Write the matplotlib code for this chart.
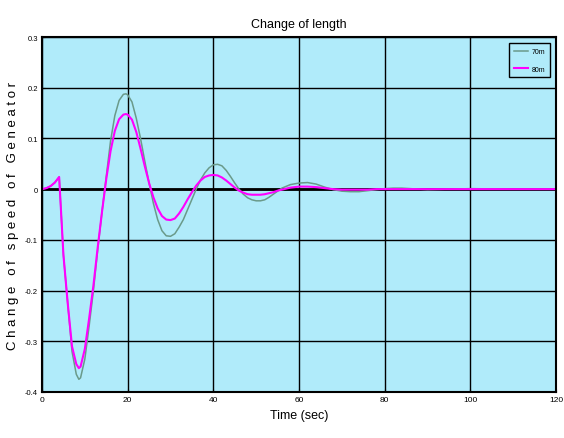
import matplotlib
matplotlib.use("Agg")
import matplotlib.pyplot as plt

# time samples (sec) and change of generator speed for two lengths
t = [0, 1, 2, 3, 4, 5, 6, 7, 8, 8.6, 9, 10, 11, 12, 13, 14, 15, 16, 17, 18,
     19, 19.6, 20, 21, 22, 23, 24, 25, 26, 27, 28, 29, 30, 31, 32, 33, 34,
     35, 36, 37, 38, 39, 40, 41, 42, 43, 44, 45, 46, 47, 48, 49, 50, 51, 52,
     53, 54, 55, 56, 58, 60, 62, 64, 66, 68, 70, 72, 74, 76, 78, 80, 82, 84,
     86, 88, 90, 95, 100, 110, 120]

speed_70m = [0, 0.002, 0.006, 0.013, 0.024, -0.13, -0.225, -0.32, -0.365,
             -0.375, -0.372, -0.335, -0.27, -0.2, -0.12, -0.045, 0.025, 0.095,
             0.145, 0.175, 0.187, 0.188, 0.186, 0.172, 0.14, 0.1, 0.055, 0.012,
             -0.028, -0.06, -0.082, -0.092, -0.093, -0.088, -0.075, -0.06,
             -0.04, -0.02, 0.0, 0.018, 0.032, 0.042, 0.048, 0.049, 0.046,
             0.037, 0.025, 0.012, 0.0, -0.01, -0.017, -0.021, -0.023, -0.023,
             -0.021, -0.016, -0.01, -0.004, 0.002, 0.009, 0.012, 0.013, 0.01,
             0.004, -0.001, -0.004, -0.005, -0.005, -0.003, -0.001, 0.001,
             0.002, 0.002, 0.001, 0.0, -0.001, 0.0, 0.001, 0.0, 0.0]

speed_80m = [0, 0.002, 0.006, 0.013, 0.024, -0.13, -0.225, -0.31, -0.345,
             -0.353, -0.35, -0.315, -0.255, -0.19, -0.115, -0.045, 0.02, 0.075,
             0.115, 0.138, 0.147, 0.148, 0.147, 0.137, 0.113, 0.08, 0.045,
             0.012, -0.016, -0.038, -0.053, -0.06, -0.061, -0.058, -0.048,
             -0.035, -0.02, -0.006, 0.007, 0.017, 0.024, 0.027, 0.028, 0.027,
             0.023, 0.017, 0.01, 0.003, -0.003, -0.007, -0.01, -0.011, -0.011,
             -0.011, -0.01, -0.008, -0.006, -0.003, -0.001, 0.003, 0.005,
             0.005, 0.004, 0.002, 0.0, -0.001, -0.001, -0.001, -0.001, 0.0,
             0.0, 0.0, 0.0, 0.0, 0.0, 0.0, 0.0, 0.0, 0.0, 0.0]

x_ticks = [0, 20, 40, 60, 80, 100, 120]
y_ticks = [-0.4, -0.3, -0.2, -0.1, 0, 0.1, 0.2, 0.3]
y_labels = ["-0.4", "-0.3", "-0.2", "-0.1", "0", "0.1", "0.2", "0.3"]

font = ["Liberation Sans", "DejaVu Sans"]

fig = plt.figure(figsize=(5.64, 4.39), dpi=100)
ax = fig.add_axes([0.0745, 0.1048, 0.9113, 0.8086])
ax.set_facecolor("#b0ebfa")

ax.plot(t, speed_70m, color="#6a9a8a", lw=1.1, label="70m")
ax.plot(t, speed_80m, color="#ff00ff", lw=1.5, label="80m")

ax.set_xlim(0, 120)
ax.set_ylim(-0.4, 0.3)
ax.set_xticks(x_ticks)
ax.set_xticklabels([str(v) for v in x_ticks], family=font, fontsize=6)
ax.set_yticks(y_ticks)
ax.set_yticklabels(y_labels, family=font, fontsize=5.5)
ax.tick_params(direction="in", length=2, width=0.8, pad=3)
ax.grid(True, color="black", lw=1)
ax.axhline(0, color="black", lw=2, zorder=1.5)
ax.set_axisbelow(True)
for s in ax.spines.values():
    s.set_linewidth(1.5)

ax.set_title("Change of length", family=font, fontsize=9, pad=7)
ax.set_xlabel("Time (sec)", family=font, fontsize=9, labelpad=4)
ax.set_ylabel("C h a n g e   o f   s p e e d   o f   G e n e a t o r",
              family=font, fontsize=9.5, labelpad=4)

leg = ax.legend(loc="upper right", frameon=True, fancybox=False,
                handlelength=2.0, borderpad=0.7, labelspacing=1.5,
                borderaxespad=0.9, handletextpad=0.5,
                prop={"family": font, "size": 5})
leg.get_frame().set_edgecolor("black")
leg.get_frame().set_linewidth(1)
leg.get_frame().set_facecolor("#b0ebfa")
leg.get_frame().set_alpha(1)

fig.savefig("out.png", dpi=100)
